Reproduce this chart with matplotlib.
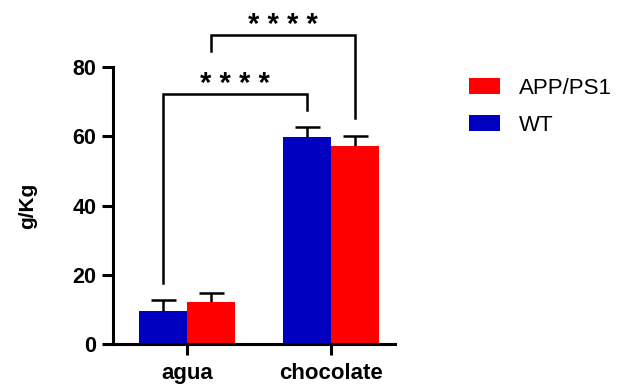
import matplotlib
matplotlib.use("Agg")
import matplotlib.pyplot as plt
import numpy as np

categories = ["agua", "chocolate"]
series_names = ["WT", "APP/PS1"]
wt_means = [9.5, 59.7]
wt_err = [3.2, 3.1]
app_means = [12.0, 57.2]
app_err = [2.6, 3.0]
yticks = [0, 20, 40, 60, 80]
sig_label = "* * * *"

plt.rcParams['font.family'] = ['Liberation Sans', 'DejaVu Sans']

fig = plt.figure(figsize=(6.17, 3.85), dpi=100)
ax = fig.add_axes([113/617, 1-344/385, (395-113)/617, (344-67)/385])

x = np.arange(len(categories))
w = 0.333
blue = "#0000C0"
red = "#FF0000"
b1 = ax.bar(x - w/2, wt_means, w, color=blue, label="WT", zorder=2)
b2 = ax.bar(x + w/2, app_means, w, color=red, label="APP/PS1", zorder=2)
ax.errorbar(x - w/2, wt_means, yerr=wt_err, fmt='none', ecolor='black',
            elinewidth=1.8, capsize=9, capthick=1.8, zorder=1)
ax.errorbar(x + w/2, app_means, yerr=app_err, fmt='none', ecolor='black',
            elinewidth=1.8, capsize=9, capthick=1.8, zorder=1)

ax.set_xlim(-0.514, 1.445)
ax.set_ylim(0, 80)
ax.set_yticks(yticks)
ax.set_xticks(x)
ax.set_xticklabels(categories, fontsize=16, fontweight='bold')
ax.tick_params(axis='y', labelsize=15.5, width=2.2, length=8, direction='out', pad=4)
ax.tick_params(axis='x', width=2.2, length=8, direction='out', pad=6)
for lab in ax.get_yticklabels():
    lab.set_fontweight('bold')
for s in ['top', 'right']:
    ax.spines[s].set_visible(False)
for s in ['left', 'bottom']:
    ax.spines[s].set_linewidth(2.2)
ax.set_ylabel("g/Kg", fontsize=15, fontweight='bold', labelpad=25)

# significance brackets
def bracket(x0, y0, x1, y1, ytop, ys):
    ax.plot([x0, x0, x1, x1], [y0, ytop, ytop, y1], color='black', lw=1.8,
            clip_on=False, zorder=4, solid_joinstyle='miter')
    ax.text((x0 + x1)/2, ys, sig_label, ha='center', va='center', fontsize=21,
            fontweight='bold', clip_on=False)

bracket(x[0] - w/2, 17.5, x[1] - w/2, 67.6, 72.1, 75.0)
bracket(x[0] + w/2, 84.5, x[1] + w/2, 65.3, 89.3, 92.2)

handles = [b2, b1]
fig.legend(handles, ["APP/PS1", "WT"], loc='upper left', bbox_to_anchor=(449/617, 1-58/385),
           frameon=False, fontsize=16, handlelength=1.4, handleheight=0.7,
           labelspacing=0.7, handletextpad=0.85)

fig.savefig("out.png", dpi=100)
